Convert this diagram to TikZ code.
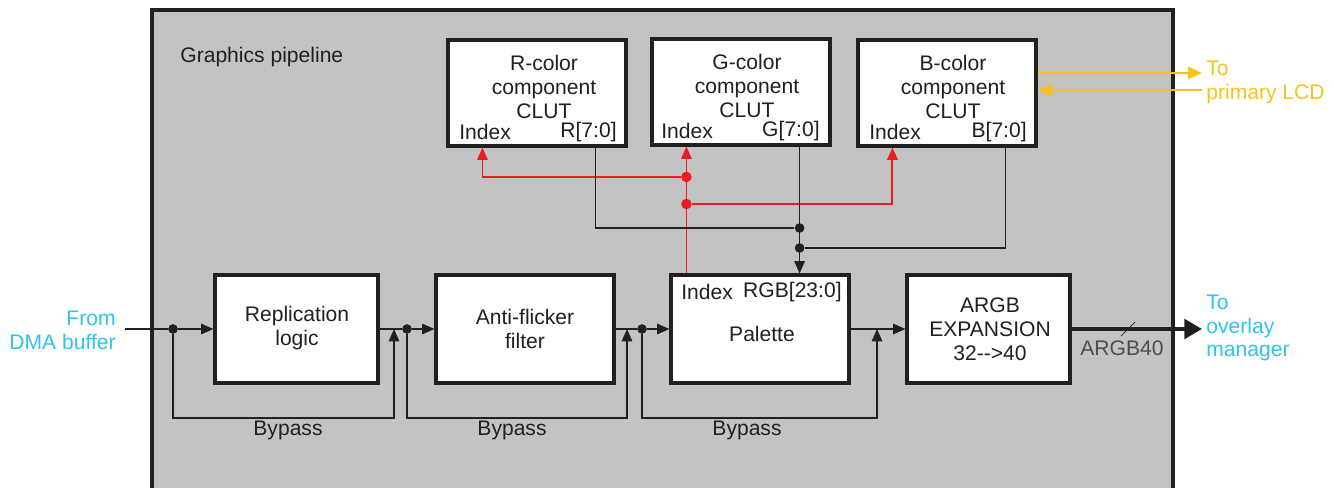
\documentclass[tikz,border=0pt]{standalone}
\usepackage{fontspec}
\setmainfont{Liberation Sans}
\usetikzlibrary{arrows.meta}
\definecolor{pipegray}{HTML}{C3C3C3}
\definecolor{linedark}{HTML}{231F20}
\definecolor{idxred}{HTML}{EC1C24}
\definecolor{dmablue}{HTML}{2EC4EE}
\definecolor{lcdyellow}{HTML}{F7C21E}

\begin{document}
\begin{tikzpicture}[x=0.02cm, y=-0.02cm, >={Triangle[length=7pt, width=6pt]},
    blok/.style={draw=linedark, line width=1.8pt, fill=white, inner sep=0pt},
    clut/.style={blok, minimum width=3.56cm, minimum height=2.12cm},
    stage/.style={blok, minimum height=2.16cm},
    wire/.style={draw=linedark, line width=0.6pt},
    idx/.style={draw=idxred, line width=0.7pt},
    dot/.style={circle, fill=linedark, inner sep=0pt, minimum size=5.5pt},
    rdot/.style={dot, fill=idxred, minimum size=6pt},
    txt/.style={font=\fontsize{12}{13.6}\selectfont, text=linedark, align=center, inner sep=0pt}]

    \useasboundingbox (0,0) rectangle (1334,487);

    % Cadre du pipeline
    \draw[fill=pipegray, draw=linedark, line width=1.8pt] (152,10) rectangle (1173,500);
    \node[txt, anchor=west] (title) at (180,57) {Graphics pipeline};

    % Tables CLUT
    \node[clut] (rclut) at (537,93) {};
    \node[clut] (gclut) at (741,92) {};
    \node[clut] (bclut) at (947,93) {};
    \node[txt] at (544,87) {R-color\\component\\CLUT};
    \node[txt] at (747,86) {G-color\\component\\CLUT};
    \node[txt] at (953,87) {B-color\\component\\CLUT};
    \node[txt, anchor=west] at (459,132) {Index};
    \node[txt, anchor=east] at (617,132) {R[7:0]};
    \node[txt, anchor=west] at (661,131) {Index};
    \node[txt, anchor=east] at (820,131) {G[7:0]};
    \node[txt, anchor=west] at (869,132) {Index};
    \node[txt, anchor=east] at (1027,132) {B[7:0]};

    % Etages du pipeline
    \node[stage, minimum width=3.26cm] (repl) at (296.5,329) {};
    \node[stage, minimum width=3.56cm] (flick) at (525,329) {};
    \node[stage, minimum width=3.56cm] (pal) at (760,329) {};
    \node[stage, minimum width=3.26cm] (argb) at (988.5,329) {};
    \node[txt] at (297,328) {Replication\\logic};
    \node[txt] at (525,329) {Anti-flicker\\filter};
    \node[txt] at (762,334) {Palette};
    \node[txt, anchor=west] at (681,292) {Index};
    \node[txt, anchor=east] at (842,292) {RGB[23:0]};
    \node[txt] at (990,329) {ARGB\\EXPANSION\\32-{}->40};

    % Chemin principal
    \coordinate (in) at (125,329);
    \node[dot] (d1) at (173,329) {};
    \node[dot] (d2) at (407,329) {};
    \node[dot] (d3) at (642,329) {};
    \draw[wire] (in) -- (d1);
    \draw[wire, ->] (d1) -- (repl);
    \draw[wire] (repl) -- (d2);
    \draw[wire, ->] (d2) -- (flick);
    \draw[wire] (flick) -- (d3);
    \draw[wire, ->] (d3) -- (pal);
    \draw[wire, ->] (pal) -- (argb);

    % Bypass
    \coordinate (b1) at (394,418);
    \coordinate (b2) at (627,418);
    \coordinate (b3) at (877,418);
    \draw[wire, ->] (d1) |- (b1) -- (b1 |- d1);
    \draw[wire, ->] (d2) |- (b2) -- (b2 |- d2);
    \draw[wire, ->] (d3) |- (b3) -- (b3 |- d3);
    \node[txt] at (288,430) {Bypass};
    \node[txt] at (512,430) {Bypass};
    \node[txt] at (747,430) {Bypass};

    % Index (rouge)
    \coordinate (rin) at ([xshift=0.72cm]rclut.south west);
    \coordinate (gin) at ([xshift=0.72cm]gclut.south west);
    \coordinate (bin) at ([xshift=0.72cm]bclut.south west);
    \node[rdot] (r1) at (gin |- 0,177) {};
    \node[rdot] (r2) at (gin |- 0,204) {};
    \draw[idx, ->] (gin |- pal.north) -- (gin);
    \draw[idx, ->] (r1) -| (rin);
    \draw[idx, line width=1.1pt, ->] (r2) -| (bin);

    % Sorties des CLUT
    \coordinate (rout) at ([xshift=-0.64cm]rclut.south east);
    \coordinate (gout) at ([xshift=-0.64cm]gclut.south east);
    \coordinate (bout) at ([xshift=-0.64cm]bclut.south east);
    \node[dot] (k1) at (gout |- 0,228) {};
    \node[dot] (k2) at (gout |- 0,248) {};
    \draw[wire] (rout) |- (k1);
    \draw[wire] (bout) |- (k2);
    \draw[wire, ->] (gout) -- (gout |- pal.north);

    % Sortie ARGB40
    \coordinate (out) at (1202,329);
    \draw[draw=linedark, line width=2.3pt, -{Triangle[length=10pt, width=11pt]}] (argb) -- (out);
    \draw[wire, line width=0.4pt] (1121,336) -- (1135,322);
    \node[txt, text=linedark!80] at (1122,348) {ARGB40};

    % Vers l'ecran LCD (jaune)
    \coordinate (lcd1) at (1202,73);
    \coordinate (lcd2) at (1202,90);
    \draw[lcdyellow, line width=1.1pt, -{Triangle[length=8pt, width=7pt]}] (bclut.east |- lcd1) -- (lcd1);
    \draw[lcdyellow, line width=1.1pt, -{Triangle[length=8pt, width=7pt]}] (lcd2) -- (bclut.east |- lcd2);

    % Textes externes
    \node[txt, text=dmablue, align=right, anchor=east] (dma) at (116,330) {From\\DMA buffer};
    \node[txt, text=dmablue, align=left, anchor=west] (ovl) at (1206,328) {To\\overlay\\manager};
    \node[txt, text=lcdyellow, align=left, anchor=west] (lcd) at (1206,82) {To\\primary LCD};

\end{tikzpicture}
\end{document}
